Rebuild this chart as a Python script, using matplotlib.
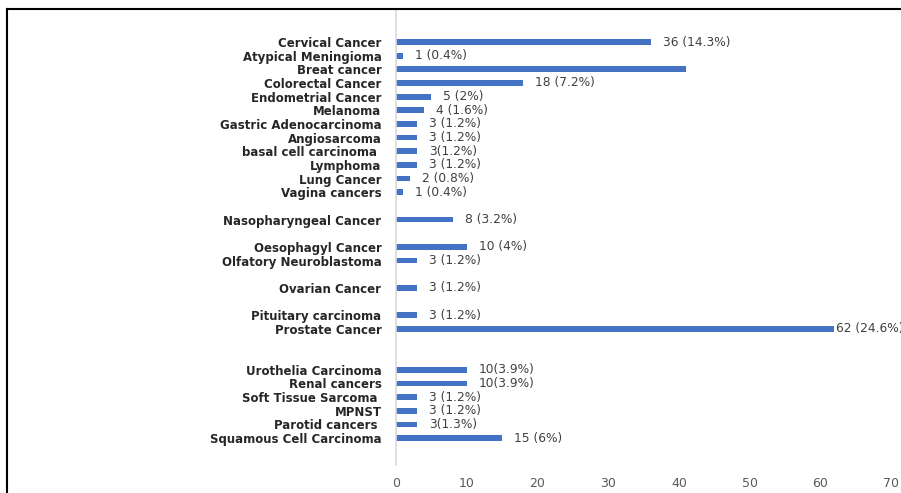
import numpy as np
import matplotlib.pyplot as plt
from matplotlib.lines import Line2D

# categories top to bottom, blank rows kept as empty strings
cancers = ["Cervical Cancer", "Atypical Meningioma", "Breat cancer", "Colorectal Cancer",
           "Endometrial Cancer", "Melanoma", "Gastric Adenocarcinoma", "Angiosarcoma",
           "basal cell carcinoma ", "Lymphoma", "Lung Cancer", "Vagina cancers", "",
           "Nasopharyngeal Cancer", "", "Oesophagyl Cancer", "Olfatory Neuroblastoma", "",
           "Ovarian Cancer", "", "Pituitary carcinoma", "Prostate Cancer", "", "",
           "Urothelia Carcinoma", "Renal cancers", "Soft Tissue Sarcoma ", "MPNST",
           "Parotid cancers ", "Squamous Cell Carcinoma"]
counts = [36, 1, 41, 18, 5, 4, 3, 3, 3, 3, 2, 1, 0, 8, 0, 10, 3, 0, 3, 0, 3, 62, 0, 0,
          10, 10, 3, 3, 3, 15]
labels = ["36 (14.3%)", "1 (0.4%)", "", "18 (7.2%)", "5 (2%)", "4 (1.6%)", "3 (1.2%)",
          "3 (1.2%)", "3(1.2%)", "3 (1.2%)", "2 (0.8%)", "1 (0.4%)", "", "8 (3.2%)", "",
          "10 (4%)", "3 (1.2%)", "", "3 (1.2%)", "", "3 (1.2%)", "62 (24.6%)", "", "",
          "10(3.9%)", "10(3.9%)", "3 (1.2%)", "3 (1.2%)", "3(1.3%)", "15 (6%)"]
xticks = [0, 10, 20, 30, 40, 50, 60, 70]

fig = plt.figure(figsize=(9.01, 4.93), dpi=100)
ax = fig.add_axes([0.4395, 0.0568, 0.5494, 0.925])

y = np.arange(len(cancers))
ax.barh(y, counts, height=0.42, color="#4472C4")
ax.set_ylim(30.97, -2.42)
ax.set_xlim(0, 70)

for yi, c, lab in zip(y, counts, labels):
    if not lab:
        continue
    off = 0.2 if c > 60 else 1.7
    ax.text(c + off, yi, lab, va="center", ha="left", fontsize=8.8,
            color="#404040", clip_on=False)

ax.set_yticks(y)
ax.set_yticklabels(cancers, fontsize=8.5, fontweight="bold", color="#262626")
ax.set_xticks(xticks)
ax.set_xticklabels([str(t) for t in xticks], fontsize=9, color="#595959")
ax.tick_params(axis="both", length=0)
ax.tick_params(axis="x", pad=9)
ax.tick_params(axis="y", pad=10.5)

for s in ["top", "right", "bottom"]:
    ax.spines[s].set_visible(False)
ax.spines["left"].set_color("#d9d9d9")
ax.spines["left"].set_linewidth(1.2)

# black frame of the cropped figure
fig.add_artist(Line2D([0.0078, 0.0078], [0, 0.9817], color="black", lw=1.5,
                      transform=fig.transFigure))
fig.add_artist(Line2D([0.0078, 1], [0.9817, 0.9817], color="black", lw=1.5,
                      transform=fig.transFigure))

fig.savefig("out.png", dpi=100)
